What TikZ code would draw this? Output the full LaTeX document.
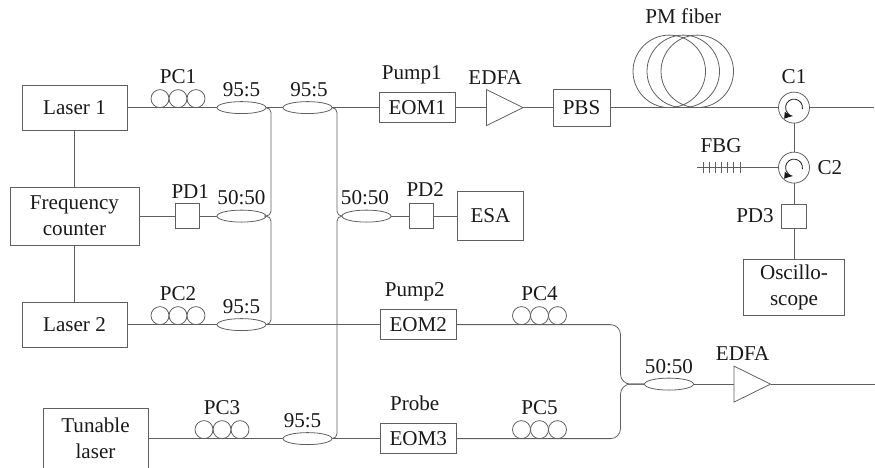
\documentclass[tikz,border=0pt]{standalone}
\usepackage{fontspec}
\setmainfont{Liberation Serif}
\usepackage{tikz}
\usetikzlibrary{shapes.geometric, arrows.meta, positioning, calc}
\definecolor{linegray}{RGB}{95,95,95}
\definecolor{textgray}{RGB}{25,25,25}
\tikzset{
  every node/.style={text=textgray, outer sep=0pt},
  fiber/.style={draw=linegray, line width=0.45pt, rounded corners=0.1cm},
  block/.style={
    rectangle, draw=linegray, line width=0.45pt, inner sep=0pt,
    text centered, align=center, font=\fontsize{12}{14.8}\selectfont
  },
  lsr/.style={block, minimum width=2.1cm, minimum height=0.9cm},
  eom/.style={block, minimum width=1.53cm, minimum height=0.6cm},
  pdet/.style={block, minimum width=0.49cm, minimum height=0.49cm},
  cpl/.style={ellipse, draw=linegray, line width=0.45pt, inner sep=0pt,
    minimum width=0.98cm, minimum height=0.24cm},
  coil/.style={circle, draw=linegray, line width=0.45pt, inner sep=0pt,
    minimum size=0.36cm},
  fcoil/.style={circle, draw=linegray, line width=0.45pt, inner sep=0pt,
    minimum size=1.45cm},
  circ/.style={circle, draw=linegray, line width=0.45pt, inner sep=0pt,
    minimum size=0.62cm},
  amp/.style={isosceles triangle, isosceles triangle stretches, draw=linegray,
    line width=0.45pt, inner sep=0pt, shape border rotate=0,
    minimum width=0.72cm, minimum height=0.73cm},
  lbl/.style={inner sep=0pt, text height=0.26cm, text depth=0pt,
    font=\fontsize{12}{14.8}\selectfont},
  rot/.style={draw=textgray, line width=0.45pt, -{Latex[length=5pt,width=4pt]}}
}
% polarization controller: three small loops and their label
\newcommand{\pcoil}[3]{
  \node[coil, #2] (#1a) {};
  \node[coil, right=0pt of #1a] (#1b) {};
  \node[coil, right=0pt of #1b] (#1c) {};
  \node[lbl, above=0.12cm of #1b] (#1t) {#3};
}
\begin{document}
\begin{tikzpicture}[node distance=0.6cm and 1.0cm]
  \useasboundingbox (0,0) rectangle (17.5,-9.34);

  % sources
  \node[lsr] (laser1) at (1.49,-2.152) {Laser 1};
  \node[block, minimum width=2.58cm, minimum height=1.16cm, below=1.14cm of laser1] (fc)
        {Frequency\\counter};
  \node[lsr, below=1.14cm of fc] (laser2) {Laser 2};
  \node[lsr, minimum height=1.22cm, below=1.22cm of laser2, xshift=0.42cm] (tun)
        {Tunable\\laser};

  % first row
  \pcoil{pc1}{right=0.48cm of laser1, yshift=0.18cm}{PC1}
  \node[cpl, right=1.8cm of laser1] (sp1) {};
  \node[cpl, right=0.34cm of sp1] (sp2) {};
  \node[eom, right=0.94cm of sp2] (eom1) {EOM1};
  \node[amp, right=0.62cm of eom1] (edfa1) {};
  \node[block, minimum width=1.14cm, minimum height=0.74cm, right=0.6cm of edfa1] (pbs) {PBS};
  \node[fcoil, right=0.46cm of pbs, yshift=0.725cm] (pm1) {};
  \node[fcoil] (pm2) at ($(pm1)+(0.28,0)$) {};
  \node[fcoil] (pm3) at ($(pm1)+(0.56,0)$) {};
  \node[circ, right=3.37cm of pbs] (c1) {};
  \coordinate[right=1.29cm of c1] (out1);
  \node[circ, below=0.58cm of c1] (c2) {};
  \coordinate[left=1.63cm of c2] (fbgend);
  \node[pdet, below=0.42cm of c2] (pd3) {};
  \node[block, minimum width=2.02cm, minimum height=1.12cm, below=0.62cm of pd3] (osc)
        {Oscillo-\\scope};

  % second row
  \node[pdet, right=0.72cm of fc] (pd1) {};
  \node[cpl, right=0.35cm of pd1] (sp3) {};
  \node[cpl, right=1.52cm of sp3] (sp4) {};
  \node[pdet, right=0.36cm of sp4] (pd2) {};
  \node[block, minimum width=1.32cm, minimum height=0.98cm, right=0.48cm of pd2] (esa) {ESA};

  % third and fourth row
  \pcoil{pc2}{right=0.48cm of laser2, yshift=0.18cm}{PC2}
  \node[cpl, right=1.8cm of laser2] (sp5) {};
  \node[eom, right=2.28cm of sp5] (eom2) {EOM2};
  \pcoil{pc4}{right=1.12cm of eom2, yshift=0.18cm}{PC4}
  \pcoil{pc3}{right=0.94cm of tun, yshift=0.18cm}{PC3}
  \node[cpl, right=2.7cm of tun] (sp6) {};
  \node[eom, right=0.96cm of sp6] (eom3) {EOM3};
  \pcoil{pc5}{right=1.12cm of eom3, yshift=0.18cm}{PC5}
  \node[cpl, right=3.76cm of $(eom2.east)!0.5!(eom3.east)$, yshift=-0.05cm] (sp7) {};
  \node[amp, right=0.81cm of sp7] (edfa2) {};
  \coordinate[right=2.12cm of edfa2.east] (out2);

  % labels
  \node[lbl, above=0.1cm of sp1] (t1) {95:5};
  \node[lbl, above=0.1cm of sp2, xshift=0.03cm] (t2) {95:5};
  \node[lbl, above=0.12cm of sp3] (t3) {50:50};
  \node[lbl, above=0.12cm of sp4, xshift=-0.03cm] (t4) {50:50};
  \node[lbl, above=0.1cm of sp5] (t5) {95:5};
  \node[lbl, above=0.1cm of sp6, xshift=-0.1cm] (t6) {95:5};
  \node[lbl, above=0.1cm of sp7] (t7) {50:50};
  \node[lbl, above=0.1cm of pd1, xshift=0.06cm] (t8) {PD1};
  \node[lbl, above=0.14cm of pd2, xshift=0.08cm] (t9) {PD2};
  \node[lbl, left=0.16cm of pd3] (t10) {PD3};
  \node[lbl, above=0.26cm of eom1, xshift=-0.11cm] (t11) {Pump1};
  \node[lbl, above=0.26cm of eom2, xshift=-0.07cm] (t12) {Pump2};
  \node[lbl, above=0.26cm of eom3, xshift=-0.07cm] (t13) {Probe};
  \node[lbl, above=0.22cm of edfa1, xshift=-0.05cm] (t14) {EDFA};
  \node[lbl, above=0.22cm of edfa2, xshift=-0.05cm] (t15) {EDFA};
  \node[lbl, above=0.24cm of pm2] (t16) {PM fiber};
  \node[lbl, above=0.18cm of c1] (t17) {C1};
  \node[lbl, right=0.16cm of c2] (t18) {C2};
  \node[lbl, above=0.31cm of fbgend, xshift=0.48cm] (t19) {FBG};

  % fibers
  \draw[fiber] (laser1) -- (fc);
  \draw[fiber] (fc) -- (laser2);
  \draw[fiber] (laser1) -- (sp1);
  \draw[fiber] (sp1) -- (sp2);
  \draw[fiber] (sp2) -- (eom1);
  \draw[fiber] (eom1) -- (edfa1.west);
  \draw[fiber] (edfa1.east) -- (pbs);
  \draw[fiber] (pbs) -- (c1);
  \draw[fiber] (c1) -- (out1);
  \draw[fiber] (c1) -- (c2);
  \draw[fiber] (c2) -- (pd3);
  \draw[fiber] (pd3) -- (osc);
  \draw[fiber] (fbgend) -- (c2);
  \draw[fiber] (fc) -- (pd1);
  \draw[fiber] (pd1) -- (sp3);
  \draw[fiber] (sp4) -- (pd2);
  \draw[fiber] (pd2) -- (esa);
  \draw[fiber] (laser2) -- (sp5);
  \draw[fiber] (sp5) -- (eom2);
  \draw[fiber] (tun) -- (sp6);
  \draw[fiber] (sp6) -- (eom3);
  \draw[fiber] (sp7) -- (edfa2.west);
  \draw[fiber] (edfa2.east) -- (out2);
  \draw[fiber] (sp1.east) -- ++(0.1,0) |- (sp3.east);
  \draw[fiber] (sp5.east) -- ++(0.1,0) |- (sp3.east);
  \draw[fiber] (sp2.east) -- ++(0.1,0) |- (sp4.west);
  \draw[fiber] (sp6.east) -- ++(0.1,0) |- (sp4.west);
  \draw[fiber, rounded corners=0.2cm] (eom2) -| ($(sp7.west)+(-0.48,0)$) -- (sp7.west);
  \draw[fiber, rounded corners=0.2cm] (eom3) -| ($(sp7.west)+(-0.48,0)$) -- (sp7.west);

  % grating and circulator arrows
  \foreach \i in {0,...,6}
    \draw[fiber] ($(fbgend)+(0.12+\i*0.123,-0.11)$) -- ++(0,0.22);
  \draw[rot] ([shift={(-10:0.17)}]c1.center) arc (-10:265:0.17);
  \draw[rot] ([shift={(-10:0.17)}]c2.center) arc (-10:265:0.17);
\end{tikzpicture}
\end{document}
